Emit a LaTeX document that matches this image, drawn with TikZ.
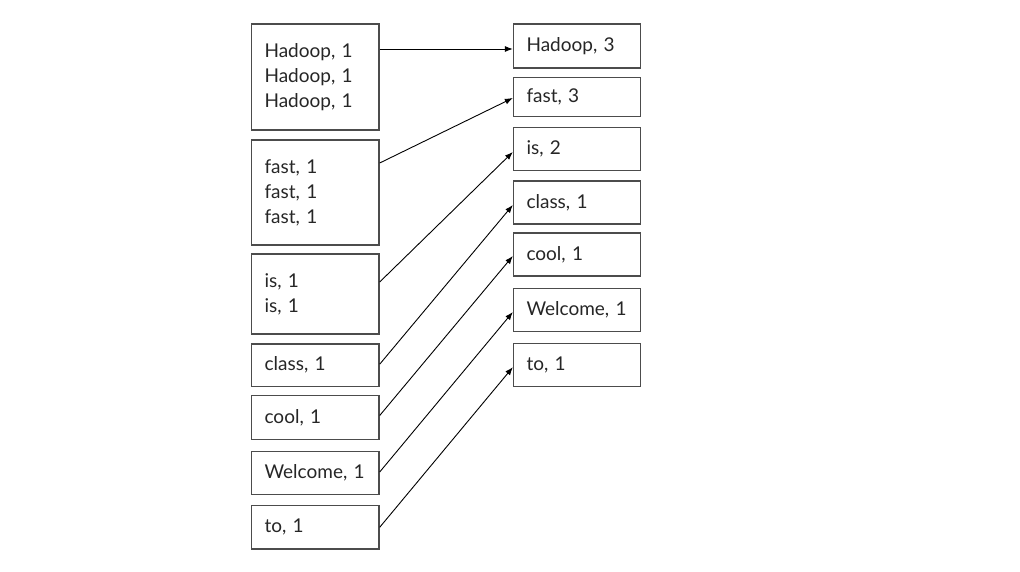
\documentclass[tikz,border=0pt]{standalone}
\usepackage{fontspec}
\setmainfont{Lato}
\usetikzlibrary{arrows.meta}
\begin{document}
\begin{tikzpicture}[x=1pt,y=-1pt,
  box/.style={draw=black!70, line width=1.3pt, rectangle, inner xsep=13pt, inner ysep=0pt,
    align=left, font=\fontsize{19}{25}\selectfont, text=black!85},
  lbox/.style={box, minimum width=127.5pt, text width=101.5pt},
  rbox/.style={box, minimum width=127pt, text width=101pt},
  conn/.style={draw=black, line width=0.9pt, -{Latex[length=8pt,width=6pt]}}]
\useasboundingbox (0,0) rectangle (1020,572);
% left column
\node[lbox, minimum height=106pt]  (l1) at (315.3,77)    {Hadoop, 1\\Hadoop, 1\\Hadoop, 1};
\node[lbox, minimum height=105pt]  (l2) at (315.3,192.5) {fast, 1\\fast, 1\\fast, 1};
\node[lbox, minimum height=80pt]   (l3) at (315.3,294)   {is, 1\\is, 1};
\node[lbox, minimum height=42.5pt] (l4) at (315.3,365.2) {class, 1};
\node[lbox, minimum height=43.5pt] (l5) at (315.3,417.5) {cool, 1};
\node[lbox, minimum height=43.5pt] (l6) at (315.3,473)   {Welcome, 1};
\node[lbox, minimum height=43.5pt] (l7) at (315.3,527.3) {to, 1};
% right column
\node[rbox, minimum height=44pt]   (r1) at (577,46)    {Hadoop, 3};
\node[rbox, minimum height=39.5pt] (r2) at (577,97)    {fast, 3};
\node[rbox, minimum height=43.5pt] (r3) at (577,149)   {is, 2};
\node[rbox, minimum height=43pt]   (r4) at (577,202.5) {class, 1};
\node[rbox, minimum height=43pt]   (r5) at (577,254.5) {cool, 1};
\node[rbox, minimum height=43pt]   (r6) at (577,310)   {Welcome, 1};
\node[rbox, minimum height=43pt]   (r7) at (577,364.7) {to, 1};
% connectors
\draw[conn] ([yshift=28pt]l1.east)   -- ([yshift=-3pt]r1.west);
\draw[conn] ([yshift=29.5pt]l2.east) -- ([yshift=-1pt]r2.west);
\draw[conn] ([yshift=12pt]l3.east)   -- ([yshift=-3pt]r3.west);
\draw[conn] ([yshift=1pt]l4.east)    -- ([yshift=-2.5pt]r4.west);
\draw[conn] ([yshift=2pt]l5.east)    -- ([yshift=-1.5pt]r5.west);
\draw[conn] ([yshift=1pt]l6.east)    -- ([yshift=-2pt]r6.west);
\draw[conn] ([yshift=0pt]l7.east)    -- ([yshift=-2.5pt]r7.west);
\end{tikzpicture}
\end{document}
